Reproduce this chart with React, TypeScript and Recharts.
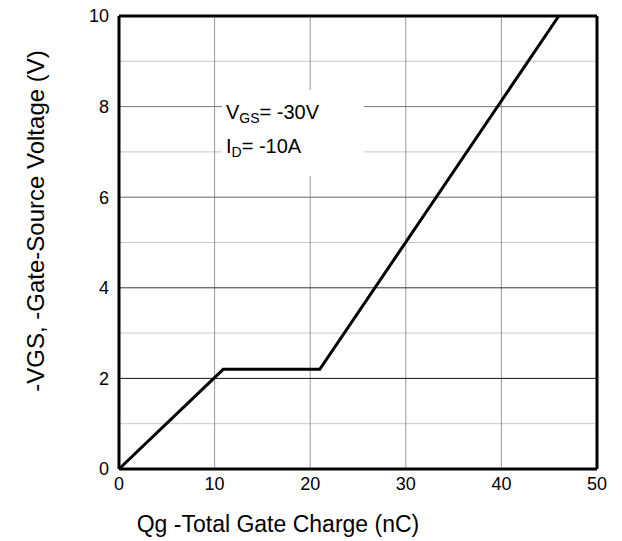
import { LineChart, Line, XAxis, YAxis, ReferenceLine } from "recharts";

// gate charge curve: Qg (nC) vs -VGS (V)
const qg = [0, 10.9, 21, 46];
const vgs = [0, 2.2, 2.2, 10];

const xTicks = [0, 10, 20, 30, 40, 50];
const yTicks = [0, 2, 4, 6, 8, 10];
const gridX = [10, 20, 30, 40];
const majorY = [2, 4, 6, 8];
const minorY = [1, 3, 5, 7, 9];

const majorColors = ["#111", "#333", "#666", "#777"];

const data = qg.map((q, i) => ({ q, v: vgs[i] }));

const font = "'Liberation Sans', Arial, sans-serif";

export default function App() {
  return (
    <div style={{ position: "absolute", left: 0, top: 0, width: 622, height: 541, background: "#fff", fontFamily: font }}>
      <LineChart width={622} height={541} data={data} margin={{ top: 16, right: 25, bottom: 42, left: 59 }}>
        {minorY.map((y) => (
          <ReferenceLine key={"m" + y} y={y} stroke="#c8c8c8" strokeWidth={1} />
        ))}
        {gridX.map((x) => (
          <ReferenceLine key={"x" + x} x={x} stroke="#999" strokeWidth={1} />
        ))}
        {majorY.map((y, i) => (
          <ReferenceLine key={"M" + y} y={y} stroke={majorColors[i]} strokeWidth={1} />
        ))}
        <XAxis
          dataKey="q"
          type="number"
          domain={[0, 50]}
          ticks={xTicks}
          height={30}
          tickLine={false}
          tickSize={0}
          tickMargin={8}
          axisLine={{ stroke: "#000", strokeWidth: 3 }}
          tick={{ fill: "#000", fontSize: 18, fontFamily: font }}
          label={{
            content: () => (
              <text x={278} y={532} textAnchor="middle" fill="#000" fontSize={23} fontFamily={font}>
                Qg -Total Gate Charge (nC)
              </text>
            ),
          }}
        />
        <YAxis
          type="number"
          domain={[0, 10]}
          ticks={yTicks}
          width={60}
          tickLine={false}
          tickSize={0}
          tickMargin={10}
          axisLine={{ stroke: "#000", strokeWidth: 3 }}
          tick={{ fill: "#000", fontSize: 18, fontFamily: font }}
          label={{
            content: () => (
              <text
                x={44}
                y={221}
                transform="rotate(-90 44 221)"
                textAnchor="middle"
                fill="#000"
                fontSize={24}
                fontFamily={font}
              >
                -VGS, -Gate-Source Voltage (V)
              </text>
            ),
          }}
        />
        <ReferenceLine y={10} stroke="#000" strokeWidth={3} />
        <ReferenceLine x={50} stroke="#000" strokeWidth={3} />
        <Line type="linear" dataKey="v" stroke="#000" strokeWidth={3} dot={false} isAnimationActive={false} />
      </LineChart>
      <div
        style={{
          position: "absolute",
          left: 222,
          top: 90,
          width: 142,
          height: 86,
          background: "#fff",
          color: "#000",
          fontSize: 20,
          lineHeight: "34px",
          paddingLeft: 4,
          paddingTop: 5,
          boxSizing: "border-box",
        }}
      >
        <div>
          V<sub style={{ fontSize: 14, verticalAlign: "-4px", lineHeight: 0 }}>GS</sub>= -30V
        </div>
        <div>
          I<sub style={{ fontSize: 14, verticalAlign: "-4px", lineHeight: 0 }}>D</sub>= -10A
        </div>
      </div>
    </div>
  );
}
